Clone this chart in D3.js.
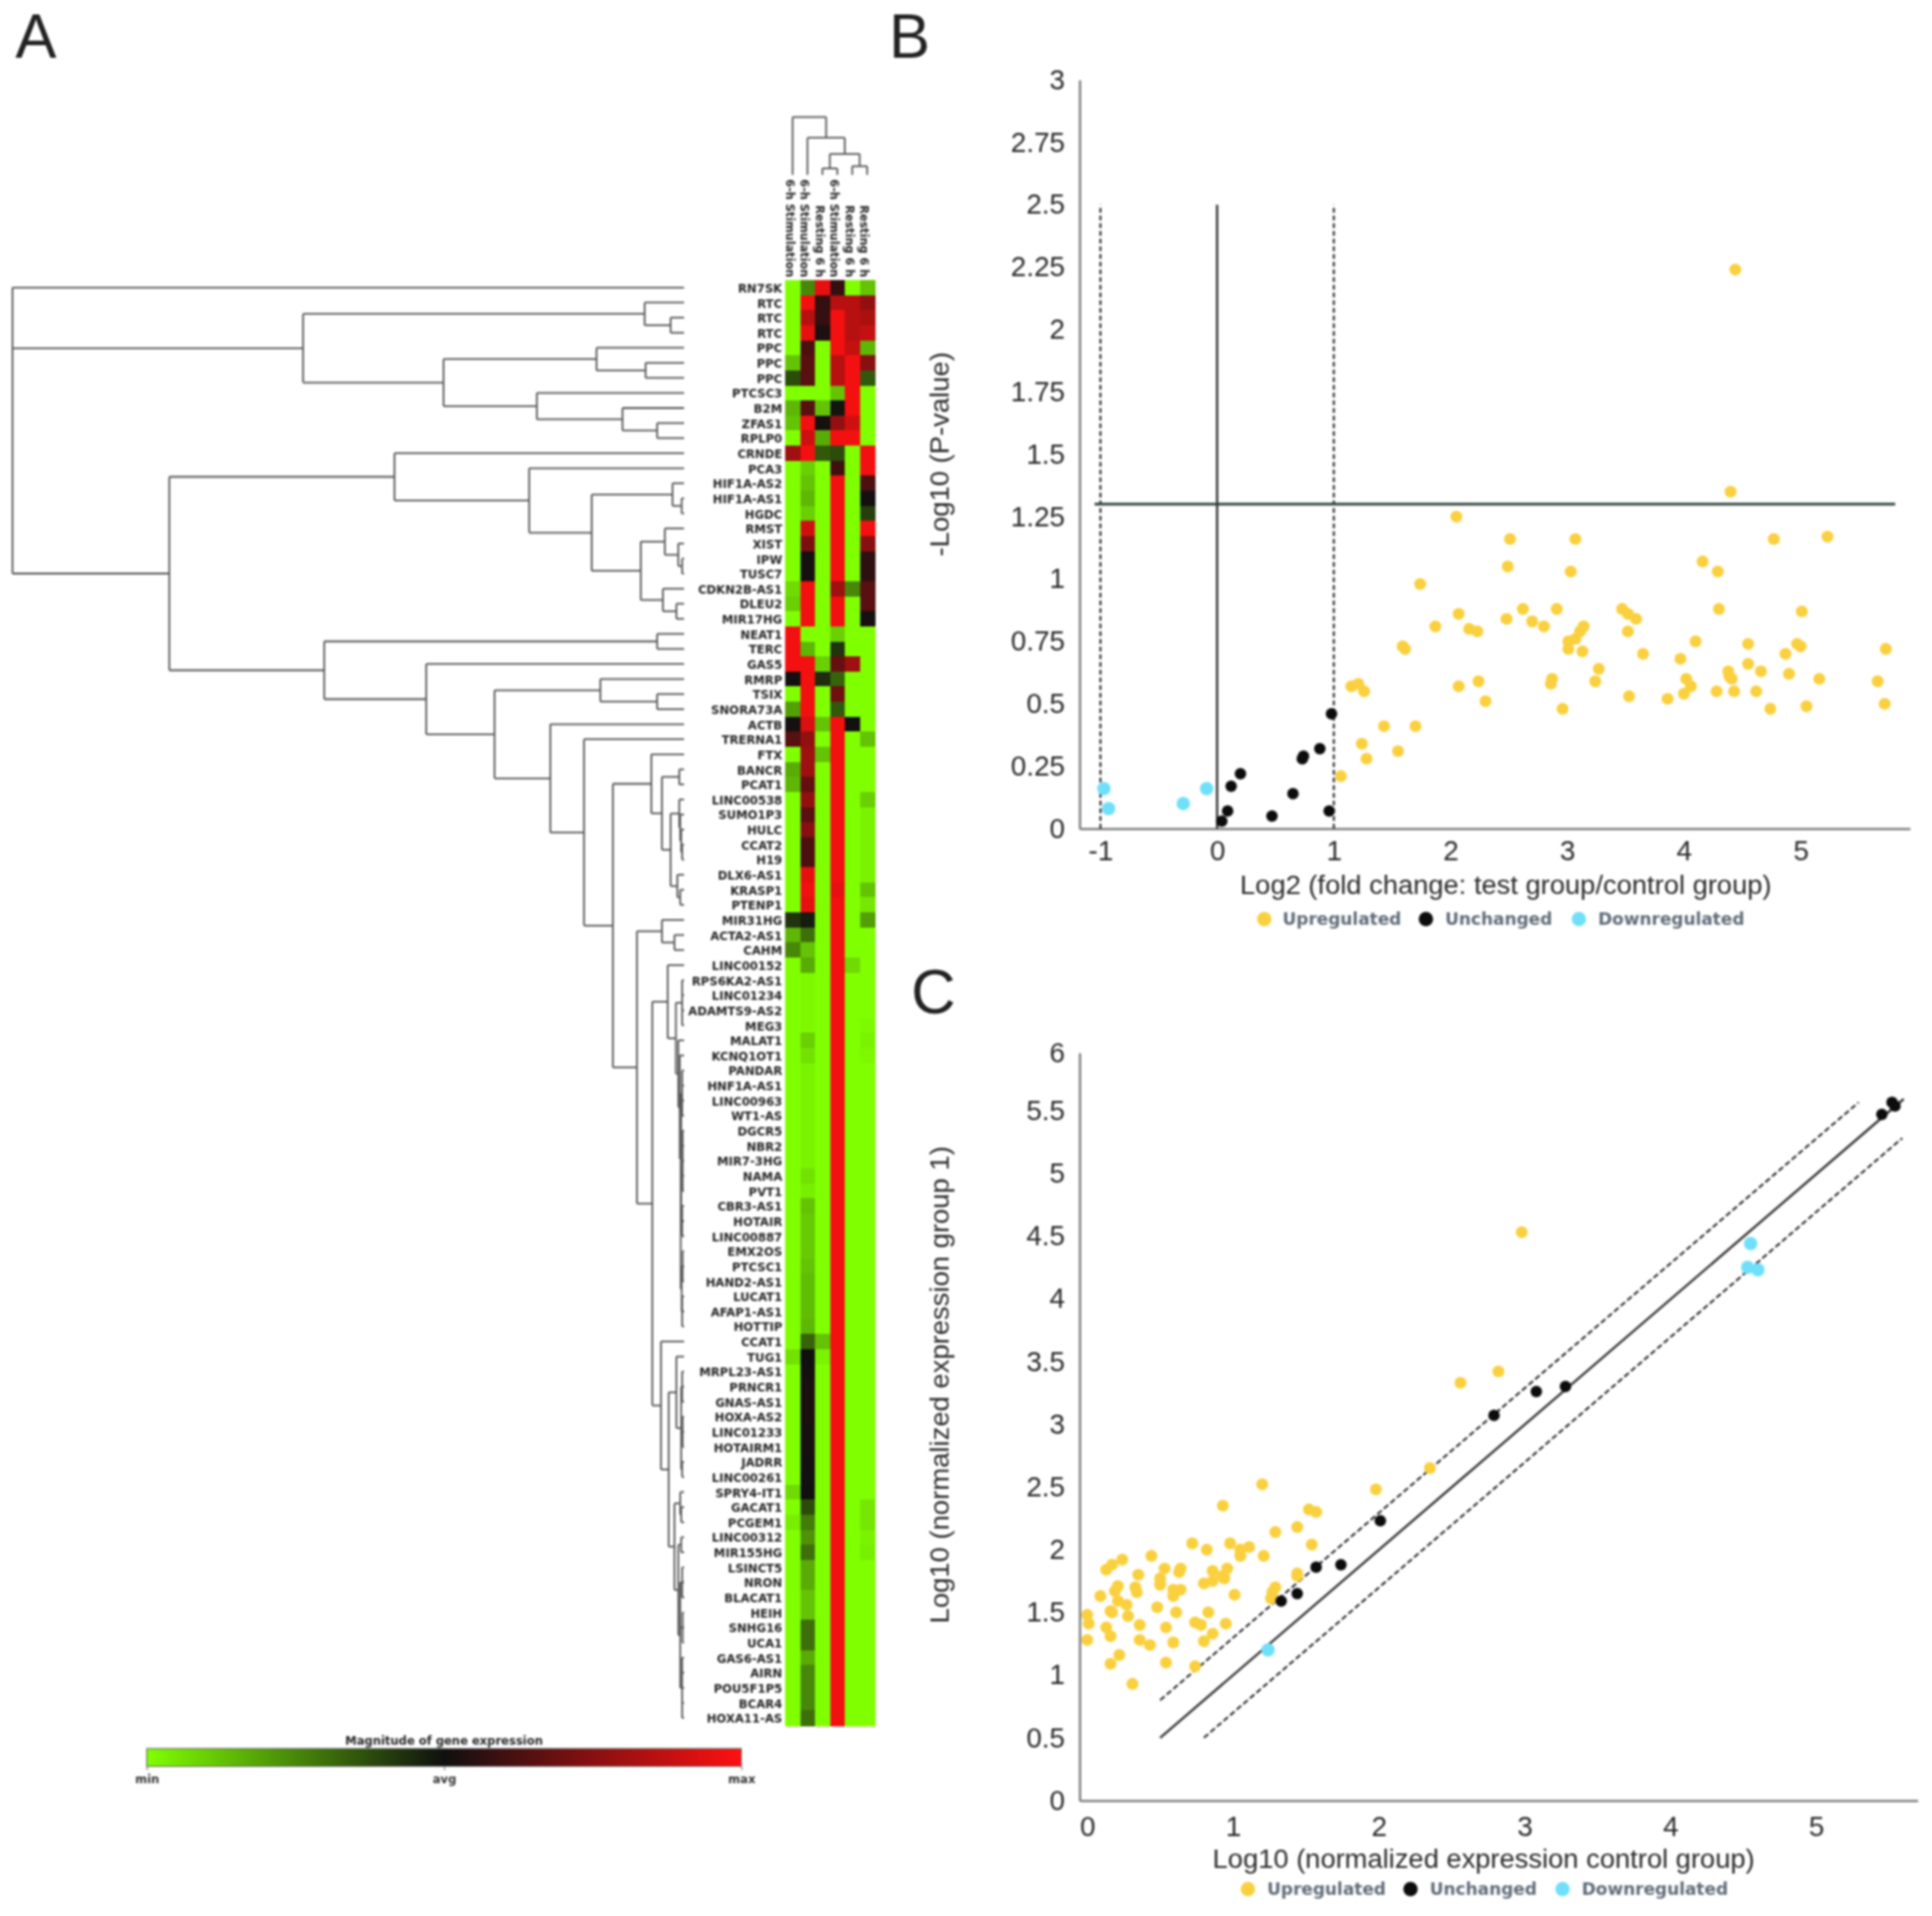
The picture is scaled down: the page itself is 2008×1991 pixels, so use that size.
<!DOCTYPE html>
<html><head><meta charset="utf-8">
<script src="https://cdn.jsdelivr.net/npm/d3@7/dist/d3.min.js"></script>
<style>
html,body{margin:0;padding:0;background:#fff}
svg{display:block;filter:blur(0.8px)}
</style></head><body>
<svg id="c" width="2008" height="1991"></svg>
<script>
const geneLabels=["RN7SK","RTC","RTC","RTC","PPC","PPC","PPC","PTCSC3","B2M","ZFAS1","RPLP0","CRNDE","PCA3","HIF1A-AS2","HIF1A-AS1","HGDC","RMST","XIST","IPW","TUSC7","CDKN2B-AS1","DLEU2","MIR17HG","NEAT1","TERC","GAS5","RMRP","TSIX","SNORA73A","ACTB","TRERNA1","FTX","BANCR","PCAT1","LINC00538","SUMO1P3","HULC","CCAT2","H19","DLX6-AS1","KRASP1","PTENP1","MIR31HG","ACTA2-AS1","CAHM","LINC00152","RPS6KA2-AS1","LINC01234","ADAMTS9-AS2","MEG3","MALAT1","KCNQ1OT1","PANDAR","HNF1A-AS1","LINC00963","WT1-AS","DGCR5","NBR2","MIR7-3HG","NAMA","PVT1","CBR3-AS1","HOTAIR","LINC00887","EMX2OS","PTCSC1","HAND2-AS1","LUCAT1","AFAP1-AS1","HOTTIP","CCAT1","TUG1","MRPL23-AS1","PRNCR1","GNAS-AS1","HOXA-AS2","LINC01233","HOTAIRM1","JADRR","LINC00261","SPRY4-IT1","GACAT1","PCGEM1","LINC00312","MIR155HG","LSINCT5","NRON","BLACAT1","HEIH","SNHG16","UCA1","GAS6-AS1","AIRN","POU5F1P5","BCAR4","HOXA11-AS"];
const sampleLabels=["6-h Stimulation","6-h Stimulation","Resting 6 h","6-h Stimulation","Resting 6 h","Resting 6 h"];
const heat=[
[-1,-.5,.9,.15,-1,-.75],[-1,.95,.15,.7,.7,.55],[-1,.7,.15,.95,.7,.65],[-1,.9,.05,.95,.7,.75],[-1,.25,-1,.95,.75,-.7],[-.75,.3,-1,.7,.95,.5],[-.25,.3,-1,.7,.95,-.3],[-1,-1,-1,-.75,.95,-1],[-.7,.3,-.75,-.02,.95,-1],[-.75,.95,.03,.55,.8,-1],[-1,.8,-.65,.95,.95,-1],
[.6,.95,-.3,-.25,-1,.95],[-1,-.8,-1,.2,-1,.95],[-1,-.75,-1,.95,-1,.25],[-1,-.7,-1,.95,-1,.02],[-1,-.8,-1,.95,-1,-.2],[-1,.8,-1,.95,-1,.95],[-1,.45,-1,.95,-1,.5],[-1,.03,-1,.95,-1,.12],[-1,.03,-1,.95,-1,.12],[-.85,.95,-1,.6,-.5,.3],[-.8,.95,-1,.95,-1,.3],[-1,.95,-1,.95,-1,.03],
[.95,-1,-1,-.8,-1,-1],[.95,-.7,-1,-.15,-1,-1],[.95,.95,-.8,.35,.6,-1],[.02,.95,-.12,-.35,-1,-1],[-1,.95,-1,.4,-1,-1],[-.6,.95,-1,-.3,-1,-1],[.03,.85,-.75,.95,.01,-1],[.3,.55,-1,.95,-1,-.75],[-1,.6,-.75,.95,-1,-1],[-.65,.6,-1,.95,-1,-1],[-.7,.35,-1,.95,-1,-1],[-1,.55,-1,.95,-1,-.8],[-1,.3,-1,.95,-1,-.95],[-1,.5,-1,.95,-1,-.95],[-1,.25,-1,.95,-1,-.95],[-1,.25,-1,.95,-1,-.95],[-1,.9,-1,.95,-1,-.95],[-1,.95,-1,.9,-1,-.75],[-1,.9,-1,.95,-1,-.9],
[-.15,-.05,-1,.95,-1,-.6],[-.7,-.4,-1,.95,-1,-1],[-.5,-.75,-1,.95,-1,-1],[-1,-.65,-1,.95,-.85,-1],[-1,-.97,-1,.95,-1,-1],[-1,-.97,-1,.95,-1,-1],[-1,-.97,-1,.95,-1,-1],[-1,-.97,-1,.95,-1,-.98],[-1,-.8,-1,.95,-1,-.95],[-1,-.88,-1,.95,-1,-.97],[-1,-.95,-1,.95,-1,-1],[-1,-.95,-1,.95,-1,-1],[-1,-.95,-1,.95,-1,-1],[-1,-.95,-1,.95,-1,-1],[-1,-.95,-1,.95,-1,-1],[-1,-.95,-1,.95,-1,-1],[-1,-.95,-1,.95,-1,-1],[-1,-.88,-1,.95,-1,-1],[-1,-.93,-1,.95,-1,-1],[-1,-.75,-1,.95,-1,-1],[-1,-.78,-1,.95,-1,-1],[-1,-.78,-1,.95,-1,-1],[-1,-.78,-1,.95,-1,-1],[-1,-.75,-1,.95,-1,-1],[-1,-.72,-1,.95,-1,-1],[-1,-.72,-1,.95,-1,-1],[-1,-.72,-1,.95,-1,-1],[-1,-.7,-1,.95,-1,-1],
[-1,-.35,-.75,.95,-1,-1],[-.88,0,-.95,.95,-1,-1],[-1,.02,-1,.95,-1,-1],[-1,.04,-1,.95,-1,-1],[-1,.04,-1,.95,-1,-1],[-1,.04,-1,.95,-1,-1],[-1,.03,-1,.95,-1,-1],[-1,.03,-1,.95,-1,-1],[-1,.02,-1,.95,-1,-1],[-1,.01,-1,.95,-1,-1],[-.85,0,-1,.95,-1,-1],[-1,-.25,-1,.95,-1,-.9],[-.93,-.45,-1,.95,-1,-.9],[-1,-.55,-1,.95,-1,-.95],[-1,-.4,-1,.95,-1,-.93],[-1,-.65,-1,.95,-1,-1],[-1,-.65,-1,.95,-1,-1],[-1,-.75,-1,.95,-1,-1],[-1,-.75,-1,.95,-1,-1],[-1,-.4,-1,.95,-1,-1],[-1,-.4,-1,.95,-1,-1],[-1,-.65,-1,.95,-1,-1],[-1,-.5,-1,.95,-1,-1],[-1,-.5,-1,.95,-1,-1],[-1,-.5,-1,.95,-1,-1],[-1,-.4,-1,.95,-1,-1]];

// dendrograms: [merge height, child, child, ...]; a bare number is a leaf index
const geneTree=[698,0,
 [396,[41,1,[14,2,3]],[250,[91,4,[40,5,6]],[153,7,[64,8,[28,9,10]]]]],
 [535,
  [301,11,[161,12,[96,[12,13,[2.5,14,15]],[45,[20,16,[6,17,[2,18,19]]],[22,20,[8,21,22]]]]]],
  [374,[28,23,24],[268,25,[197,[87,26,[28,27,28]],[139,29,[104,30,
    [74,[34,31,[23,[5,32,33],[14,[5,34,[4,35,[3,36,[2,37,38]]]],[7,39,[4,40,41]]]]],
     [49,[23,42,[10,43,44]],
      [33,
       [17,45,[8.5,[2,46,47,48,49],[6,50,[4.5,51,[3,[2,52,53,54,55],[3.5,[1.5,56,57,58,59,60],[2,61,62,63],[2.5,[1.5,64,65,66],[2,67,68,69]]]]]]]],
       [24,70,[16,[8,71,[3,[2,72,73,74],[1.5,75,76,77],[2,78,79]]],
        [10,[4,80,[3,81,82]],[6,[3,83,84],[4,[2,85,86,87],[1.5,88,89,90],[2,91,92,93,94,95]]]]]]]]]]]]]]]];
const sampleTree=[60,0,[38.5,1,[21.7,[6.7,2,3],[9,4,5]]]];

const ticksB_x=[-1,0,1,2,3,4,5];
const ticksB_y=[0,.25,.5,.75,1,1.25,1.5,1.75,2,2.25,2.5,2.75,3];
const ticksC_x=[0,1,2,3,4,5];
const ticksC_y=[0,.5,1,1.5,2,2.5,3,3.5,4,4.5,5,5.5,6];
const legendNames=["Upregulated","Unchanged","Downregulated"];
const legendColors=["#fad03e","#0c0c0c","#70e0fa"];
const markerRadii=[6.2,6,7];

const upB=[[4.44,2.24],[4.40,1.35],[2.05,1.25],[2.51,1.16],[3.07,1.16],[4.77,1.16],[5.23,1.17],[2.49,1.05],[3.03,1.03],[4.16,1.07],[4.29,1.03],[1.74,.98],[2.07,.86],[2.62,.88],[2.91,.88],[3.47,.88],[3.52,.86],[3.59,.84],[4.30,.88],[5.01,.87],[1.87,.81],[2.48,.84],[2.70,.83],[2.80,.81],[2.16,.80],[2.23,.79],[3.14,.81],[3.11,.79],[3.52,.79],[3.07,.76],[3.01,.75],[3.01,.72],[3.13,.71],[3.65,.70],[1.59,.73],[1.61,.72],[4.10,.75],[4.55,.74],[4.97,.74],[5.00,.73],[4.87,.70],[5.73,.72],[3.97,.68],[4.55,.66],[4.66,.63],[4.38,.63],[3.27,.64],[4.90,.62],[4.39,.61],[4.41,.60],[4.02,.60],[5.16,.60],[5.66,.59],[3.24,.59],[2.87,.60],[2.86,.58],[2.24,.59],[1.21,.58],[1.15,.57],[1.26,.55],[2.07,.57],[4.06,.57],[4.28,.55],[4.43,.55],[4.62,.55],[4.00,.54],[3.53,.53],[3.86,.52],[2.30,.51],[2.96,.48],[4.74,.48],[5.05,.49],[5.72,.50],[1.43,.41],[1.70,.41],[1.24,.34],[1.55,.31],[1.28,.28],[1.06,.21]];
const sameB=[[.98,.46],[.88,.32],[.74,.29],[.73,.28],[.20,.22],[.12,.17],[.65,.14],[.09,.07],[.96,.07],[.47,.05],[.04,.03]];
const downB=[[-.97,.16],[-.93,.08],[-.29,.10],[-.09,.16]];

const upC=[[2.98,4.53],[2.82,3.42],[2.56,3.33],[2.35,2.65],[1.20,2.52],[1.98,2.48],[.93,2.35],[1.52,2.32],[1.57,2.30],[1.29,2.14],[1.44,2.18],[1.54,2.04],[.98,2.05],[.72,2.05],[.82,2.00],[1.05,2.00],[1.11,2.02],[1.05,1.95],[1.21,1.95],[.44,1.95],[.24,1.92],[.17,1.88],[.13,1.84],[.64,1.85],[.63,1.82],[.53,1.85],[.96,1.85],[.86,1.83],[.93,1.79],[.35,1.80],[.94,1.77],[1.44,1.81],[1.44,1.79],[.50,1.77],[.50,1.72],[.86,1.75],[.80,1.73],[.21,1.71],[.33,1.70],[.19,1.67],[.34,1.66],[.64,1.68],[.59,1.68],[.59,1.63],[1.01,1.64],[1.29,1.70],[1.27,1.66],[1.26,1.61],[.09,1.63],[.21,1.59],[.27,1.56],[.16,1.51],[.17,1.50],[.48,1.54],[.61,1.50],[.83,1.50],[.28,1.47],[0,1.48],[.01,1.41],[.13,1.38],[.36,1.40],[.74,1.42],[.78,1.40],[.95,1.41],[.54,1.38],[.16,1.31],[.86,1.33],[.80,1.27],[0,1.28],[.36,1.28],[.43,1.24],[.59,1.26],[.22,1.16],[.16,1.09],[.54,1.10],[.74,1.07],[.31,.93]];
const sameC=[[5.52,5.57],[5.54,5.54],[5.45,5.47],[3.28,3.30],[3.08,3.26],[2.79,3.07],[2.01,2.23],[1.74,1.88],[1.57,1.86],[1.33,1.59],[1.44,1.65]];
const downC=[[4.55,4.44],[4.53,4.25],[4.60,4.23],[1.24,1.20]];

const svg=d3.select("#c");
const SANS="'Liberation Sans',Arial,sans-serif", DJ="'DejaVu Sans',sans-serif";
const rowIdx=d3.range(geneLabels.length), colIdx=d3.range(sampleLabels.length);
const yRow=d3.scaleBand().domain(rowIdx).range([291,1793]);
const xCol=d3.scaleBand().domain(colIdx).range([816,909]);
const colour=d3.scaleLinear().domain([-1,0,1]).range(["#80ff00","#101010","#ff1010"]);

// Panel letters
svg.append("g").selectAll("text").data([["A",16,60],["B",924,60],["C",947,1053]]).join("text")
 .attr("x",d=>d[1]).attr("y",d=>d[2]).text(d=>d[0]).attr("font-family",SANS).attr("font-size",64).attr("fill","#222");

// Heatmap
const hm=svg.append("g").attr("shape-rendering","crispEdges");
heat.forEach((row,r)=>row.forEach((v,c)=>{
 hm.append("rect").attr("x",xCol(c)).attr("y",yRow(r)).attr("width",xCol.bandwidth()+.5).attr("height",yRow.bandwidth()+.5).attr("fill",colour(v));
}));
svg.append("g").selectAll("text").data(rowIdx).join("text")
 .attr("x",813).attr("y",d=>yRow(d)+yRow.bandwidth()/2+.7).attr("dy",".36em").attr("text-anchor","end")
 .attr("font-family",DJ).attr("font-weight","bold").attr("font-size",12.1).attr("fill","#262626").text(d=>geneLabels[d]);
svg.append("g").selectAll("text").data(colIdx).join("text")
 .attr("transform",d=>`translate(${xCol(d)+xCol.bandwidth()/2-7},288) rotate(90)`).attr("text-anchor","end")
 .attr("font-family",DJ).attr("font-weight","bold").attr("font-size",11.7).attr("fill","#262626").text(d=>sampleLabels[d]);

// Dendrograms
function layout(node,pos){ // returns leaf position and records segments
 if(typeof node==="number") return {p:pos(node),h:0};
 const kids=node.slice(1).map(k=>layout(k,pos));
 const p=(kids[0].p+kids[kids.length-1].p)/2;
 kids.forEach(k=>segs.push({h0:k.h,h1:node[0],p0:k.p,p1:k.p}));
 segs.push({h0:node[0],h1:node[0],p0:kids[0].p,p1:kids[kids.length-1].p});
 return {p,h:node[0]};
}
let segs=[];
const xDist=d3.scaleLinear().domain([0,700]).range([711,11]);
layout(geneTree,r=>yRow(r)+yRow.bandwidth()/2);
svg.append("g").selectAll("line").data(segs).join("line")
 .attr("x1",d=>xDist(d.h0)).attr("x2",d=>xDist(d.h1)).attr("y1",d=>d.p0).attr("y2",d=>d.p1)
 .attr("stroke","#555").attr("stroke-width",1.8);
segs=[];
const yDist=d3.scaleLinear().domain([0,60]).range([181.7,121.7]);
layout(sampleTree,c=>xCol(c)+xCol.bandwidth()/2);
svg.append("g").selectAll("line").data(segs).join("line")
 .attr("y1",d=>yDist(d.h0)).attr("y2",d=>yDist(d.h1)).attr("x1",d=>d.p0).attr("x2",d=>d.p1)
 .attr("stroke","#555").attr("stroke-width",1.8);

// Colour bar
const defs=svg.append("defs");
const grad=defs.append("linearGradient").attr("id","cb");
d3.range(0,1.0001,.05).forEach(t=>grad.append("stop").attr("offset",t).attr("stop-color",colour(t*2-1)));
const xBar=d3.scalePoint().domain(["min","avg","max"]).range([152.5,770.5]);
svg.append("rect").attr("x",152.5).attr("y",1817).attr("width",618).attr("height",18.5).attr("fill","url(#cb)").attr("stroke","#666").attr("stroke-width",1);
svg.append("text").attr("x",xBar("avg")).attr("y",1809).attr("dy",".36em").attr("text-anchor","middle")
 .attr("font-family",DJ).attr("font-weight","bold").attr("font-size",12).attr("fill","#262626").text("Magnitude of gene expression");
const barAxis=d3.axisBottom(xBar).tickSize(4).tickPadding(5);
svg.append("g").attr("transform","translate(0,1835.5)").call(barAxis).call(g=>{
 g.select(".domain").remove();
 g.selectAll("line").attr("stroke","#666");
 g.selectAll("text").attr("font-family",DJ).attr("font-weight","bold").attr("font-size",12).attr("fill","#333");
});

// Scatter panels
function scatter(opt){
 const g=svg.append("g");
 const x=opt.x,y=opt.y;
 const ax=d3.axisBottom(x).tickValues(opt.xt).tickSize(0).tickPadding(opt.xPad).tickFormat(String);
 const ay=d3.axisLeft(y).tickValues(opt.yt).tickSize(0).tickPadding(15).tickFormat(String);
 const style=s=>{s.select(".domain").attr("stroke","#666").attr("stroke-width",2);
  s.selectAll("text").attr("font-family",SANS).attr("font-size",29).attr("fill","#2a2a2a");};
 g.append("g").attr("transform",`translate(0,${y.range()[0]})`).call(ax).call(style);
 g.append("g").attr("transform",`translate(${x.range()[0]},0)`).call(ay).call(style);
 const line=d3.line().x(d=>x(d[0])).y(d=>y(d[1]));
 opt.lines.forEach(l=>g.append("path").attr("d",line(l.pts)).attr("fill","none").attr("stroke",l.color)
   .attr("stroke-width",l.w).attr("stroke-dasharray",l.dash||null));
 [opt.up,opt.same,opt.down].forEach((pts,i)=>{
  g.append("g").selectAll("circle").data(pts).join("circle").attr("cx",d=>x(d[0])).attr("cy",d=>y(d[1]))
   .attr("r",markerRadii[i]).attr("fill",legendColors[i]);
 });
 g.append("text").attr("x",opt.xl[0]).attr("y",opt.xl[1]).attr("dy",".36em").attr("text-anchor","middle")
  .attr("font-family",SANS).attr("font-size",28.4).attr("fill","#2a2a2a").text(opt.xLabel);
 g.append("text").attr("transform",`translate(${opt.yl[0]},${opt.yl[1]}) rotate(-90)`).attr("dy",".36em").attr("text-anchor","middle")
  .attr("font-family",SANS).attr("font-size",28.5).attr("fill","#2a2a2a").text(opt.yLabel);
 legendNames.forEach((n,i)=>{
  g.append("circle").attr("cx",opt.legC[i]).attr("cy",opt.legY).attr("r",7.5).attr("fill",legendColors[i]);
  g.append("text").attr("x",opt.legT[i]).attr("y",opt.legY).attr("dy",".36em").attr("font-family",DJ).attr("font-weight","bold")
   .attr("font-size",17.6).attr("fill","#5f6b78").text(n);
 });
}
scatter({x:d3.scaleLinear().domain([-1.179,5.936]).range([1122,1985]),
 y:d3.scaleLinear().domain([0,3]).range([861,83]),xt:ticksB_x,yt:ticksB_y,xPad:12.5,
 up:upB,same:sameB,down:downB,
 lines:[{pts:[[0,0],[0,2.5]],color:"#333",w:2.4},{pts:[[-1,0],[-1,2.5]],color:"#222",w:2,dash:"5,3"},{pts:[[1,0],[1,2.5]],color:"#222",w:2,dash:"5,3"},{pts:[[-1.05,1.3],[5.81,1.3]],color:"#2c3f3a",w:2.8}],
 xLabel:"Log2 (fold change: test group/control group)",yLabel:"-Log10 (P-value)",xl:[1565,919],yl:[976,472],
 legC:[1314,1482,1641],legT:[1333,1502,1661],legY:955});
scatter({x:d3.scaleLinear().domain([-.053,5.695]).range([1122,1993]),
 y:d3.scaleLinear().domain([0,5.5,6]).range([1871,1154,1094]),xt:ticksC_x,yt:ticksC_y,xPad:16,
 up:upC,same:sameC,down:downC,
 lines:[{pts:[[.5,.5],[5.6,5.6]],color:"#333",w:2.4},{pts:[[.5,.8],[5.29,5.57]],color:"#222",w:2,dash:"6,3"},{pts:[[.8,.5],[5.59,5.28]],color:"#222",w:2,dash:"6,3"}],
 xLabel:"Log10 (normalized expression control group)",yLabel:"Log10 (normalized expression group 1)",xl:[1542,1931],yl:[976,1439],
 legC:[1297,1466,1624],legT:[1317,1486,1644],legY:1963});
</script>
</body></html>
